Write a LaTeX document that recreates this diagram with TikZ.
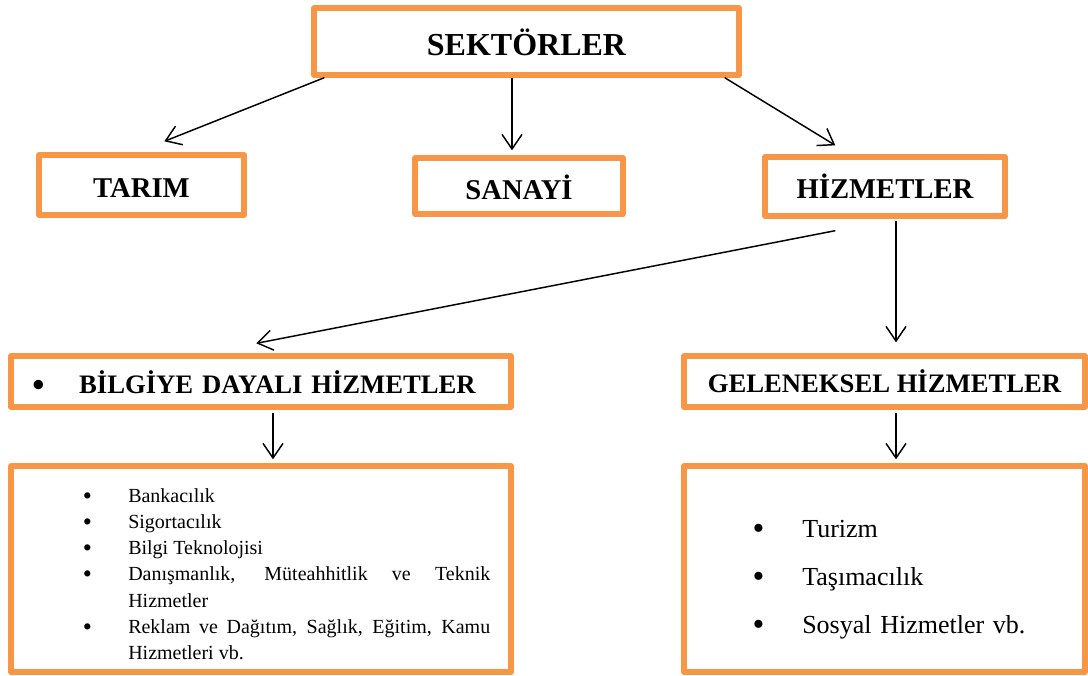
\documentclass[tikz,border=0pt]{standalone}
\usepackage{fontspec}
\setmainfont{Liberation Serif}
\usetikzlibrary{arrows.meta,calc}
\definecolor{turuncu}{HTML}{F79646}
\newlength\maddegir
\newlength\maddenokta
\newcommand{\nokta}{\raisebox{-0.1em}{\scalebox{1.3}{\textbullet}}}
\newcommand{\madde}[1]{\noindent\hangindent=\maddegir\hangafter=1\makebox[\maddegir][l]{\hspace*{\maddenokta}\nokta}#1\par}
\begin{document}
\begin{tikzpicture}[x=0.75pt, y=-0.75pt, line join=round, >={Straight Barb[length=11pt,width=15pt]},
	kutu/.style={draw=turuncu, line width=4pt, fill=white, inner sep=0pt, text depth=0pt, font=\bfseries},
	ok/.style={->, line width=1.1pt}]
	\useasboundingbox (0,0) rectangle (1088,675);
	% kutular
	\node[kutu, minimum width=318.75pt, minimum height=50.25pt, text height=20.25pt, font=\bfseries\fontsize{24}{28}\selectfont] (sek) at (526.5,41.5) {SEKTÖRLER};
	\node[kutu, minimum width=153.75pt, minimum height=45pt, text height=18.75pt, font=\bfseries\fontsize{21.5}{25}\selectfont] (tarim) at (141.5,185) {TARIM};
	\node[kutu, minimum width=156pt, minimum height=42pt, text height=19.5pt, font=\bfseries\fontsize{21.5}{25}\selectfont] (sanayi) at (519,186) {SANAYİ};
	\node[kutu, minimum width=180pt, minimum height=44.25pt, text height=18pt, font=\bfseries\fontsize{21.5}{25}\selectfont] (hizmet) at (885,186.5) {HİZMETLER};
	\node[kutu, minimum width=375pt, minimum height=38.25pt, text width=375pt, text height=18pt, align=left, font=\bfseries\fontsize{20}{24}\selectfont] (bilgi) at (261,381.5) {\hspace*{16pt}\nokta\hspace{26pt}BİLGİYE DAYALI HİZMETLER};
	\node[kutu, minimum width=300.75pt, minimum height=38.25pt, text height=17pt, font=\bfseries\fontsize{20}{24}\selectfont] (gelen) at (884.5,381.5) {GELENEKSEL HİZMETLER};
	\node[kutu, minimum width=375pt, minimum height=154.5pt] (liste1) at (261,569) {};
	\node[kutu, minimum width=300.75pt, minimum height=154.5pt] (liste2) at (884.5,569) {};
	% listeler
	\node[anchor=base west, inner sep=0pt, text width=315pt, align=justify, font=\fontsize{15}{19.7}\selectfont] (bilgimetin) at (70,502) {%
		\setlength\maddegir{43.5pt}\setlength\maddenokta{9.5pt}\hyphenpenalty=10000\tolerance=10000%
		\madde{Bankacılık}
		\madde{Sigortacılık}
		\madde{Bilgi Teknolojisi}
		\madde{Danışmanlık, Müteahhitlik ve Teknik\linebreak Hizmetler}
		\madde{Reklam ve Dağıtım, Sağlık, Eğitim, Kamu\linebreak Hizmetleri vb.}};
	\node[anchor=base west, inner sep=0pt, text width=255pt, align=left, font=\fontsize{19.5}{36}\selectfont] (gelenmetin) at (737,537) {%
		\setlength\maddegir{48.75pt}\setlength\maddenokta{11.5pt}%
		\madde{Turizm}
		\madde{Taşımacılık}
		\madde{Sosyal Hizmetler vb.}};
	% oklar
	\draw[ok] ($(sek.south west)+(13,0)$) -- ($(tarim.north west)+(128,-11)$);
	\draw[ok] ($(sek.south)+(-14.5,0)$) -- ($(sanayi.north)+(-7,-5)$);
	\draw[ok] ($(sek.south east)+(-17,0)$) -- ($(hizmet.north west)+(73,-9)$);
	\draw[ok] ($(hizmet.south west)+(73,12)$) -- ($(bilgi.north west)+(248,-10)$);
	\draw[ok] ($(hizmet.south)+(11,2)$) -- ($(gelen.north)+(11.5,-11)$);
	\draw[ok] ($(bilgi.south)+(12,3)$) -- ($(liste1.north)+(12,-4)$);
	\draw[ok] ($(gelen.south)+(11.5,3)$) -- ($(liste2.north)+(11.5,-4)$);
\end{tikzpicture}
\end{document}
